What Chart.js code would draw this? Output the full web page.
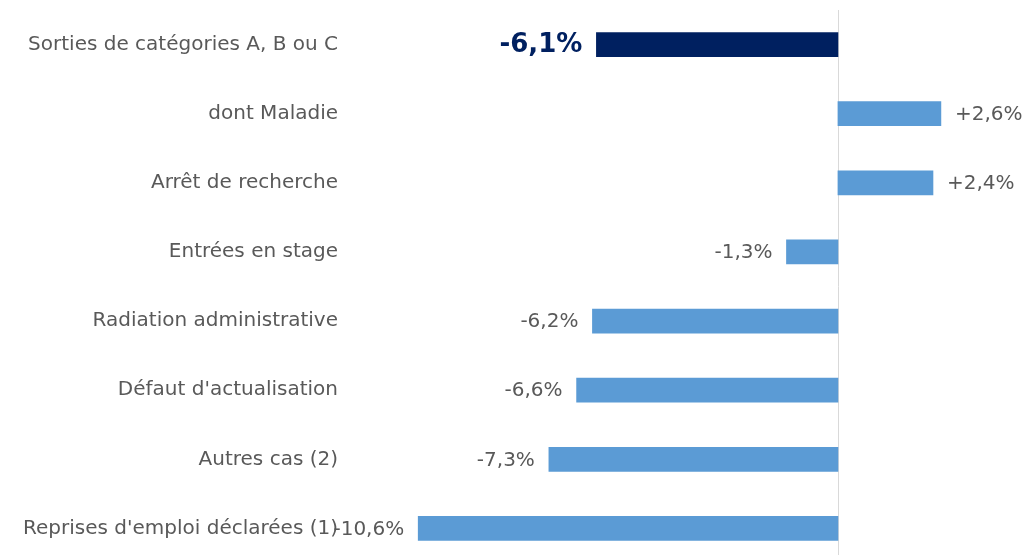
<!DOCTYPE html>
<html>
<head>
<meta charset="utf-8">
<script src="https://cdn.jsdelivr.net/npm/chart.js@4"></script>
<style>
html,body{margin:0;padding:0;background:#fff;overflow:hidden;}
#wrap{position:relative;width:1030px;height:563px;}
</style>
</head>
<body>
<div id="wrap"><canvas id="c" width="1030" height="563"></canvas></div>
<script>
const categories = [
  "Sorties de catégories A, B ou C",
  "dont Maladie",
  "Arrêt de recherche",
  "Entrées en stage",
  "Radiation administrative",
  "Défaut d'actualisation",
  "Autres cas (2)",
  "Reprises d'emploi déclarées (1)"
];
const values = [-6.1, 2.6, 2.4, -1.3, -6.2, -6.6, -7.3, -10.6];
const valueLabels = ["-6,1%", "+2,6%", "+2,4%", "-1,3%", "-6,2%", "-6,6%", "-7,3%", "-10,6%"];
const barColors = ["#002060", "#5B9BD5", "#5B9BD5", "#5B9BD5", "#5B9BD5", "#5B9BD5", "#5B9BD5", "#5B9BD5"];

const FONT = "'DejaVu Sans', sans-serif";

const zeroLine = {
  id: 'zeroLine',
  beforeDatasetsDraw(chart) {
    const ctx = chart.ctx;
    const x = Math.round(chart.scales.x.getPixelForValue(0)) + 0.5;
    ctx.save();
    ctx.strokeStyle = '#d9d9d9';
    ctx.lineWidth = 1;
    ctx.beginPath();
    ctx.moveTo(x, chart.chartArea.top);
    ctx.lineTo(x, chart.height);
    ctx.stroke();
    ctx.restore();
  }
};

const valueLabelPlugin = {
  id: 'valueLabels',
  afterDatasetsDraw(chart) {
    const ctx = chart.ctx;
    const meta = chart.getDatasetMeta(0);
    ctx.save();
    ctx.textBaseline = 'middle';
    meta.data.forEach((bar, i) => {
      const v = values[i];
      const first = i === 0;
      ctx.font = (first ? 'bold 26px ' : '20px ') + FONT;
      ctx.fillStyle = first ? '#002060' : '#595959';
      if (v < 0) {
        ctx.textAlign = 'right';
        ctx.fillText(valueLabels[i], bar.x - 14, bar.y + 1);
      } else {
        ctx.textAlign = 'left';
        ctx.fillText(valueLabels[i], bar.x + 14, bar.y + 1);
      }
    });
    ctx.restore();
  }
};

new Chart(document.getElementById('c'), {
  type: 'bar',
  data: {
    labels: categories,
    datasets: [{
      data: values,
      backgroundColor: barColors,
      borderWidth: 0,
      barThickness: 24
    }]
  },
  options: {
    indexAxis: 'y',
    responsive: false,
    animation: false,
    layout: { padding: { top: 10, bottom: 0, left: 0, right: 0 } },
    plugins: { legend: { display: false }, tooltip: { enabled: false } },
    scales: {
      x: {
        display: false,
        min: -12.6,
        max: 4.85
      },
      y: {
        afterFit(scale) {
          scale.width = 339;
          scale.paddingTop = 0;
          scale.paddingBottom = 0;
        },
        grid: { display: false, drawTicks: false },
        border: { display: false },
        ticks: {
          padding: 1,
          color: '#595959',
          font: { family: FONT, size: 20 }
        }
      }
    }
  },
  plugins: [zeroLine, valueLabelPlugin]
});
</script>
</body>
</html>
